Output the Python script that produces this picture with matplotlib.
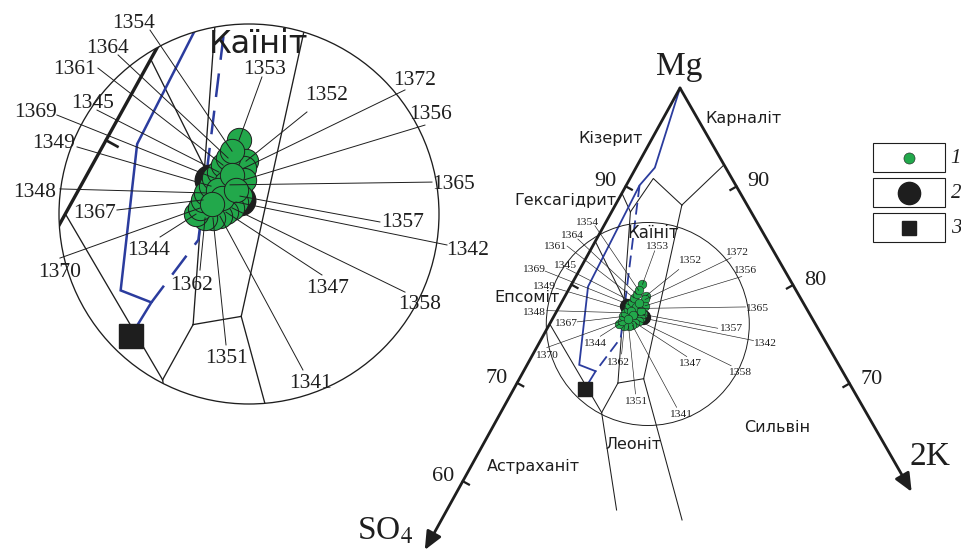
import numpy as np
import matplotlib
matplotlib.use('Agg')
import matplotlib.pyplot as plt
from matplotlib.patches import Circle, Rectangle

plt.rcParams['mathtext.fontset'] = 'stix'

SERIF = 'Liberation Serif'
SANS = 'DejaVu Sans'
INK = '#1e1e1e'
GREEN = '#22a84b'
BLUE = '#2b3c9e'

# triangle frame: apex = Mg, position given by shares of SO4 and 2K (%)
APEX = np.array([680.0, 88.0])
STEP_SO4 = np.array([-5.43, 9.83])
STEP_K = np.array([5.65, 9.85])


def tern(so4, k):
    so4 = np.asarray(so4, dtype=float)
    k = np.asarray(k, dtype=float)
    return (APEX[0] + so4 * STEP_SO4[0] + k * STEP_K[0],
            APEX[1] + so4 * STEP_SO4[1] + k * STEP_K[1])


# ---------------- data ----------------
so4_axis_end = 47.0
k_axis_end = 41.0
so4_ticks = [10, 20, 30, 40]
so4_tick_labels = ['90', '', '70', '60']
k_ticks = [10, 20, 30]
k_tick_labels = ['90', '80', '70']

# phase field boundaries, (SO4 %, 2K %)
boundaries = {
    'kieserite_carnallite': ([0.0, 5.9], [7.8, 6.0]),
    'kieserite_kainite': ([5.9, 7.1, 10.9], [6.0, 2.1, 1.7]),
    'kieserite_hexahydrite': ([10.7, 10.9], [0.0, 1.7]),
    'kainite_west': ([10.9, 20.9], [1.7, 9.1]),
    'kainite_east': ([5.9, 18.35], [6.0, 11.2]),
    'kainite_south': ([20.9, 18.35], [9.1, 11.2]),
    'hexahydrite_epsomite': ([15.6, 16.0], [0.0, 5.5]),
    'epsomite_astrakhanite': ([24.0, 23.9], [0.0, 9.1]),
    'epsomite_leonite': ([20.9, 23.9], [9.1, 9.1]),
    'astrakhanite_leonite': ([23.9, 27.6], [9.1, 15.3]),
    'leonite_sylvite': ([18.35, 22.2], [11.2, 21.7]),
}

# evaporation paths
path_solid_so4 = [0.0, 6.4, 8.7, 18.6, 23.45, 22.3, 24.2]
path_solid_k = [0.0, 1.7, 1.2, 1.6, 4.7, 6.5, 6.4]
path_dashed_so4 = [8.7, 18.3, 22.3]
path_dashed_k = [1.2, 7.1, 6.5]

# labelled samples (type 1)
sample_ids = ['1353', '1352', '1372', '1356', '1365', '1357', '1342', '1358',
              '1347', '1341', '1351', '1362', '1344', '1370', '1367', '1348',
              '1349', '1369', '1345', '1361', '1364', '1354']
sample_so4 = [13.57, 13.82, 14.11, 14.44, 15.25, 15.08, 15.44, 15.79,
              16.20, 16.60, 16.99, 17.37, 17.70, 17.34, 16.97, 16.63,
              16.20, 15.83, 15.43, 15.04, 14.60, 14.22]
sample_k = [6.40, 7.30, 7.39, 7.70, 7.16, 7.94, 7.90, 7.87,
            7.69, 7.51, 7.22, 6.84, 6.30, 6.33, 6.26, 6.22,
            6.28, 6.21, 6.29, 6.30, 6.35, 6.36]

# further type 1 samples without labels
extra_so4 = [15.39, 15.97, 14.88, 16.00, 16.65, 15.10]
extra_k = [6.92, 6.72, 6.99, 7.12, 6.80, 7.59]

# type 2 and type 3
type2_so4 = [16.08, 15.19]
type2_k = [6.07, 8.05]
type3_so4 = [24.2]
type3_k = [6.4]

phase_names = ['Кізерит', 'Карналіт', 'Гексагідрит', 'Епсоміт',
               'Сильвін', 'Леоніт', 'Астраханіт']
kainite_name = 'Каїніт'

# ---------------- layout ----------------
LENS_SO4, LENS_K = 15.14, 8.85
LENS_R = 101.5
BIG_CENTER = (249, 214)
BIG_R = 190
BIG_BOX = (500, 420)

phase_pos = [(611, 142.5), (744, 123), (565, 204.5), (527, 302.5),
             (777, 432), (633, 449), (533, 470.5)]
kainite_pos = (653, 238)

# label text centre and leader start, in lens radii from lens centre
label_text = [(0.084, -0.774), (0.411, -0.637), (0.874, -0.716), (0.958, -0.537),
              (1.074, -0.168), (0.811, 0.032), (1.153, 0.179), (0.900, 0.463),
              (0.416, 0.379), (0.326, 0.879), (-0.116, 0.747), (-0.300, 0.363),
              (-0.526, 0.179), (-0.995, 0.295), (-0.811, -0.016), (-1.126, -0.126),
              (-1.026, -0.384), (-1.126, -0.547), (-0.821, -0.595), (-0.916, -0.774),
              (-0.747, -0.884), (-0.605, -1.016)]
label_start = [(0.068, -0.721), (0.305, -0.537), (0.821, -0.653), (0.926, -0.468),
               (0.963, -0.168), (0.689, 0.042), (1.042, 0.163), (0.821, 0.411),
               (0.384, 0.321), (0.284, 0.821), (-0.121, 0.689), (-0.258, 0.295),
               (-0.468, 0.121), (-0.995, 0.232), (-0.695, -0.021), (-0.995, -0.132),
               (-0.905, -0.353), (-1.011, -0.521), (-0.800, -0.547), (-0.795, -0.768),
               (-0.689, -0.837), (-0.521, -0.968)]


def draw_diagram(ax, big):
    cx, cy = tern(LENS_SO4, LENS_K)
    cx, cy = float(cx), float(cy)
    clipped = []

    lw_thin = 0.95 if big else 0.75
    for so4, k in boundaries.values():
        x, y = tern(so4, k)
        clipped += ax.plot(x, y, color=INK, lw=lw_thin, zorder=2)

    # evaporation paths
    lw_blue = 1.8 if big else 1.3
    x, y = tern(path_solid_so4, path_solid_k)
    clipped += ax.plot(x, y, color=BLUE, lw=lw_blue, zorder=3,
                       solid_joinstyle='miter')
    x, y = tern(path_dashed_so4, path_dashed_k)
    ln, = ax.plot(x, y, color=BLUE, lw=lw_blue, zorder=3)
    ln.set_dashes((9.5, 5.5) if big else (6.5, 3.3))
    clipped.append(ln)

    # triangle edges and ticks
    lw_edge = 2.4 if big else 2.0
    if big:
        for so4, k in [([0, so4_axis_end], [0, 0]), ([0, 0], [0, k_axis_end])]:
            x, y = tern(so4, k)
            clipped += ax.plot(x, y, color=INK, lw=lw_edge, zorder=4)
    else:
        for end in [tern(so4_axis_end, 0), tern(0, k_axis_end)]:
            ax.annotate('', xy=(float(end[0]), float(end[1])),
                        xytext=(float(APEX[0]), float(APEX[1])),
                        arrowprops=dict(arrowstyle='-|>,head_length=0.5,head_width=0.22',
                                        color=INK, lw=lw_edge,
                                        mutation_scale=22, shrinkA=0, shrinkB=0),
                        zorder=4)
    n_left = np.array([STEP_SO4[1], -STEP_SO4[0]])
    n_left = n_left / np.hypot(*n_left)
    n_right = np.array([-STEP_K[1], STEP_K[0]])
    n_right = n_right / np.hypot(*n_right)
    for i, s in enumerate(so4_ticks):
        px, py = tern(s, 0)
        clipped += ax.plot([px, px + 7 * n_left[0]], [py, py + 7 * n_left[1]],
                           color=INK, lw=lw_edge * 0.8, zorder=4)
        if not big and so4_tick_labels[i]:
            ax.text(px - 20, py, so4_tick_labels[i], ha='center', va='baseline',
                    family=SERIF, fontsize=16, color=INK)
    for i, kk in enumerate(k_ticks):
        px, py = tern(0, kk)
        clipped += ax.plot([px, px + 7 * n_right[0]], [py, py + 7 * n_right[1]],
                           color=INK, lw=lw_edge * 0.8, zorder=4)
        if not big and k_tick_labels[i]:
            ax.text(px + 22, py, k_tick_labels[i], ha='center', va='baseline',
                    family=SERIF, fontsize=16, color=INK)

    # lens outline
    ax.add_patch(Circle((cx, cy), LENS_R, fill=False, ec=INK,
                        lw=0.95 if big else 0.7, zorder=3))

    # points
    x, y = tern(type2_so4, type2_k)
    ax.plot(x, y, 'o', ms=22 if big else 10, mfc=INK, mec=INK, zorder=5)
    ms1 = 17.5 if big else 6.2
    mew1 = 0.7 if big else 0.4
    x, y = tern(sample_so4, sample_k)
    ax.plot(x, y, 'o', ms=ms1, mfc=GREEN, mec=INK, mew=mew1, zorder=6)
    x, y = tern(extra_so4, extra_k)
    ax.plot(x, y, 'o', ms=ms1, mfc=GREEN, mec=INK, mew=mew1, zorder=6)
    x, y = tern(type3_so4, type3_k)
    ax.plot(x, y, 's', ms=17.5 if big else 9.5, mfc=INK, mec=INK, zorder=6)

    # sample labels with leader lines
    fs = 15.5 if big else 8.2
    for sid, so4, k, (tx, ty), (sx, sy) in zip(sample_ids, sample_so4, sample_k,
                                               label_text, label_start):
        px, py = tern(so4, k)
        ax.plot([cx + LENS_R * sx, px], [cy + LENS_R * sy, py], color=INK,
                lw=0.7 if big else 0.45, zorder=7)
        ax.text(cx + LENS_R * tx, cy + LENS_R * (ty + 0.039), sid, ha='center',
                va='baseline', family=SERIF, fontsize=fs, color=INK, zorder=8)

    ax.text(kainite_pos[0], kainite_pos[1], kainite_name, ha='center',
            va='baseline', family=SANS, fontsize=23 if big else 12, color=INK,
            zorder=8)

    if big:
        clip = Circle((cx, cy), LENS_R, transform=ax.transData)
        for art in clipped:
            art.set_clip_path(clip)


fig = plt.figure(figsize=(9.62, 5.55), dpi=100)
ax = fig.add_axes([0, 0, 1, 1])
ax.set_xlim(0, 962)
ax.set_ylim(555, 0)
ax.axis('off')

draw_diagram(ax, big=False)

for name, (x, y) in zip(phase_names, phase_pos):
    ax.text(x, y, name, ha='center', va='baseline', family=SANS, fontsize=11.5,
            color=INK)

ax.text(679, 75, 'Mg', ha='center', va='baseline', family=SERIF, fontsize=24,
        color=INK)
ax.text(357, 540, 'SO$_4$', ha='left', va='baseline', family=SERIF, fontsize=24,
        color=INK)
ax.text(910, 465, '2K', ha='left', va='baseline', family=SERIF, fontsize=24,
        color=INK)

# legend
legend_rows = [143, 178, 213]
legend_marks = [dict(marker='o', ms=8, mfc=GREEN, mec=INK, mew=0.4),
                dict(marker='o', ms=16, mfc=INK, mec=INK),
                dict(marker='s', ms=9.5, mfc=INK, mec=INK)]
for i, (top, style) in enumerate(zip(legend_rows, legend_marks)):
    ax.add_patch(Rectangle((873, top), 72, 29, fill=False, ec=INK, lw=0.8))
    ax.plot([909], [top + 14.5], ls='none', **style)
    ax.text(956, top + 20, str(i + 1), ha='center', va='baseline', family=SERIF,
            style='italic', fontsize=15, color=INK)

# magnified view of the lens
cx, cy = tern(LENS_SO4, LENS_K)
mag = BIG_R / LENS_R
W, H = 962, 555
axb = fig.add_axes([0, 1 - BIG_BOX[1] / H, BIG_BOX[0] / W, BIG_BOX[1] / H])
axb.set_xlim(cx - BIG_CENTER[0] / mag, cx + (BIG_BOX[0] - BIG_CENTER[0]) / mag)
axb.set_ylim(cy + (BIG_BOX[1] - BIG_CENTER[1]) / mag, cy - BIG_CENTER[1] / mag)
axb.patch.set_alpha(0)
axb.axis('off')

draw_diagram(axb, big=True)

fig.savefig('out.png', dpi=100)
